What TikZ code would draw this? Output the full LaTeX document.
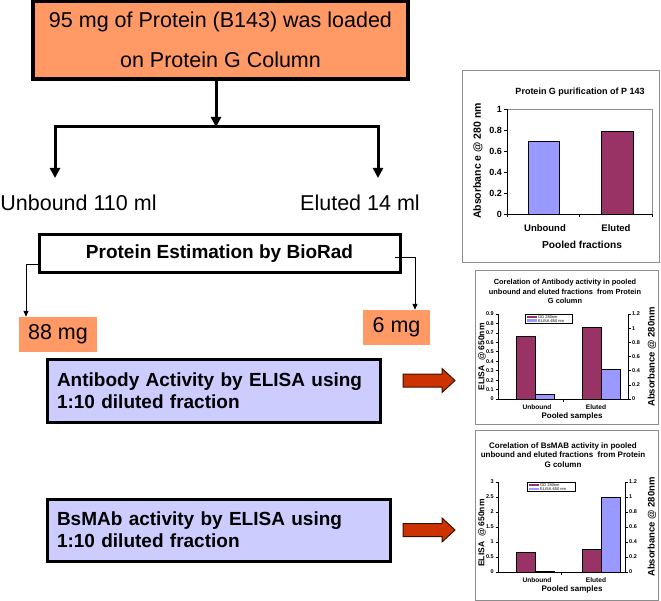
\documentclass[tikz,border=0pt]{standalone}
\usepackage{fontspec}
\setmainfont{Liberation Sans}
\usetikzlibrary{arrows.meta,calc}
\definecolor{orng}{HTML}{FF9966}
\definecolor{lav}{HTML}{CCCCFF}
\definecolor{barblue}{HTML}{9999FF}
\definecolor{barmar}{HTML}{993366}
\definecolor{redarr}{HTML}{CC3300}
\definecolor{framegray}{HTML}{8C8C8C}
\begin{document}
\begin{tikzpicture}[x=1pt,y=-1pt,
  bigtext/.style={font=\fontsize{21.5}{26}\selectfont},
  topbox/.style={draw=black,line width=3.5pt,fill=orng,minimum width=375pt,minimum height=78pt,align=center,inner sep=0pt,font=\fontsize{21.5}{40}\selectfont},
  estbox/.style={draw=black,line width=3pt,fill=white,minimum width=361pt,minimum height=38pt,inner sep=0pt,font=\fontsize{19}{22}\selectfont\bfseries},
  mgbox/.style={fill=orng,inner sep=0pt,minimum height=35pt,font=\fontsize{21.5}{26}\selectfont},
  elisabox/.style={draw=black,line width=3pt,fill=lav,minimum height=62pt,inner xsep=10pt,inner ysep=0pt,align=left,font=\fontsize{19}{22}\selectfont\bfseries},
  thickarrow/.style={line width=3pt,-{Triangle[width=10pt,length=10pt]}},
  thickline/.style={line width=3pt},
  thinarrow/.style={line width=1pt,-{Triangle[width=5pt,length=6pt]}},
  redarrow/.style={fill=redarr,draw=black!70!redarr,line width=1pt},
  cframe/.style={draw=framegray,line width=0.8pt},
  axisline/.style={draw=black,line width=0.6pt},
  barB/.style={fill=barblue,draw=black,line width=0.4pt},
  barM/.style={fill=barmar,draw=black,line width=0.4pt},
  tick1/.style={font=\fontsize{9}{10}\selectfont\bfseries,inner sep=1pt},
  tick2/.style={font=\fontsize{5.5}{6}\selectfont\bfseries,inner sep=1pt},
  legtext/.style={font=\fontsize{4}{4.5}\selectfont,inner sep=0.5pt,anchor=west},
]
\useasboundingbox (0,0) rectangle (661,601);
\fill[white] (0,0) rectangle (661,601);

% ---- flow part ----
\node[topbox] (top) at (220.5,40) {95 mg of Protein (B143) was loaded\\on Protein G Column};
\coordinate (junc) at (216,127);
\coordinate (jl) at (55,127);
\coordinate (jr) at (378,127);
\draw[thickarrow] (top.south -| junc) -- (junc);
\draw[thickline] (jl) -- (jr);
\node[bigtext,inner sep=0pt] (unb) at (78.5,203) {Unbound 110 ml};
\node[bigtext,inner sep=0pt] (elu) at (360,203) {Eluted 14 ml};
\coordinate (ul) at (55,178);
\coordinate (ur) at (378,178);
\draw[thickarrow] ([yshift=1.5pt]jl) -- (ul);
\draw[thickarrow] ([yshift=1.5pt]jr) -- (ur);

\node[estbox] (pe) at (219.5,254) {Protein Estimation by BioRad};
\node[mgbox,minimum width=78pt] (m88) at (58,334.5) {88 mg};
\node[mgbox,minimum width=67pt] (m6) at (396.5,327.5) {6 mg};
\draw[thinarrow] (pe.west |- 0,265) -| ([xshift=-32pt]m88.north);
\draw[thinarrow] ([xshift=-7pt]pe.east |- 0,258) -| ([xshift=18.5pt]m6.north);

\node[elisabox,text width=313pt] (ab) at (213.5,391) {Antibody Activity by ELISA using\\1:10 diluted fraction};
\node[elisabox,text width=323pt] (bs) at (218.5,530) {BsMAb activity by ELISA using\\1:10 diluted fraction};

% red arrows
\coordinate (ra1) at (403,380.5);
\coordinate (ra2) at (403,530);
\foreach \c in {ra1,ra2}{
  \draw[redarrow] (\c) ++(0,-6.5) -- ++(39,0) -- ++(0,-5.5) -- ++(13,12) -- ++(-13,12) -- ++(0,-5.5) -- ++(-39,0) -- cycle;
}

% ---- chart 1 ----
\draw[cframe] (462,70) rectangle (659,262);
\node[font=\fontsize{9}{10}\selectfont\bfseries] (c1t) at (580,92) {Protein G purification of P 143};
\draw[draw=framegray,line width=0.5pt] (507,109) -- (652,109) -- (652,214);
\draw[barB] (528,214) rectangle (559,141.5);
\draw[barM] (601,214) rectangle (633,131);
\draw[axisline] (507,109) -- (507,214) -- (652,214);
\foreach \v/\l in {0/0,0.2/0.2,0.4/0.4,0.6/0.6,0.8/0.8,1/1}{
  \draw[axisline] (503.5,{214-\v*105}) -- (507,{214-\v*105});
  \node[tick1,anchor=east] at (503,{214-\v*105}) {\l};
}
\foreach \x in {507,579.5,652}{ \draw[axisline] (\x,214) -- (\x,217.5); }
\node[font=\fontsize{9.5}{10}\selectfont\bfseries] (c1u) at (545,228) {Unbound};
\node[font=\fontsize{9.5}{10}\selectfont\bfseries] (c1e) at (616,228) {Eluted};
\node[font=\fontsize{10.2}{11}\selectfont\bfseries] (c1x) at (582,245) {Pooled fractions};
\node[font=\fontsize{10.5}{11}\selectfont\bfseries,rotate=90] (c1y) at (478,161) {Absorbanc e @ 280 nm};

% ---- chart 2 ----
\draw[cframe] (475,270) rectangle (658,424);
\node[font=\fontsize{7.4}{9.5}\selectfont\bfseries,align=center] (c2t) at (565,291.5) {Corelation of Antibody activity in pooled\\unbound and eluted fractions\ \ from Protein\\G column};
\draw[barM] (516,399) rectangle (535,336);
\draw[barB] (535,399) rectangle (554,394);
\draw[barM] (582,399) rectangle (601,327);
\draw[barB] (601,399) rectangle (620,369);
\draw[axisline] (498,314) -- (498,399) -- (628,399) -- (628,314);
\foreach \i in {0,...,9}{
  \draw[axisline] (495.5,{399-\i*85/9}) -- (498,{399-\i*85/9});
}
\foreach \i/\l in {0/0,1/0.1,2/0.2,3/0.3,4/0.4,5/0.5,6/0.6,7/0.7,8/0.8,9/0.9}{
  \node[tick2,anchor=east] at (495,{399-\i*85/9}) {\l};
}
\foreach \i/\l in {0/0,1/0.2,2/0.4,3/0.6,4/0.8,5/1,6/1.2}{
  \draw[axisline] (628,{399-\i*85/6}) -- (630.5,{399-\i*85/6});
  \node[tick2,anchor=west] at (631,{399-\i*85/6}) {\l};
}
\draw[axisline] (563,399) -- (563,401.5);
\draw[fill=white,draw=black,line width=0.4pt] (525,314) rectangle (572,323);
\fill[barmar] (527,316) rectangle (537,318.3);
\fill[barblue] (527,319.5) rectangle (537,321.8);
\node[legtext] at (537.5,317.2) {OD 280nm};
\node[legtext] at (537.5,320.7) {ELISA 650 nm};
\node[font=\fontsize{6.6}{7}\selectfont\bfseries] (c2u) at (537,407) {Unbound};
\node[font=\fontsize{6.6}{7}\selectfont\bfseries] (c2e) at (596,407) {Eluted};
\node[font=\fontsize{8}{9}\selectfont\bfseries] (c2x) at (572,416) {Pooled samples};
\node[font=\fontsize{8.5}{9}\selectfont\bfseries,rotate=90] (c2y) at (482,357) {ELISA\ \ @ 650nm};
\node[font=\fontsize{9.5}{10}\selectfont\bfseries,rotate=90] (c2z) at (652,357) {Absorbance @ 280nm};

% ---- chart 3 ----
\draw[cframe] (475,430) rectangle (658,600);
\node[font=\fontsize{8}{9.3}\selectfont\bfseries,align=center] (c3t) at (563,455) {Corelation of BsMAB activity in pooled\\unbound and eluted fractions\ \ from Protein\\G column};
\draw[barM] (516,572) rectangle (535,552);
\draw[barB] (535,572) rectangle (554,571);
\draw[barM] (582,572) rectangle (601,549);
\draw[barB] (601,572) rectangle (620,497);
\draw[axisline] (498,482) -- (498,572) -- (625,572) -- (625,482);
\foreach \i/\l in {0/0,1/0.5,2/1,3/1.5,4/2,5/2.5,6/3}{
  \draw[axisline] (495.5,{572-\i*15}) -- (498,{572-\i*15});
  \node[tick2,anchor=east] at (495,{572-\i*15}) {\l};
}
\foreach \i/\l in {0/0,1/0.2,2/0.4,3/0.6,4/0.8,5/1,6/1.2}{
  \draw[axisline] (625,{572-\i*15}) -- (627.5,{572-\i*15});
  \node[tick2,anchor=west] at (628,{572-\i*15}) {\l};
}
\draw[axisline] (561.5,572) -- (561.5,574.5);
\draw[fill=white,draw=black,line width=0.4pt] (527,482) rectangle (575,491);
\fill[barmar] (529,484) rectangle (539,486.3);
\fill[barblue] (529,487.5) rectangle (539,489.8);
\node[legtext] at (539.5,485.2) {OD 280nm};
\node[legtext] at (539.5,488.7) {ELISA 650 nm};
\node[font=\fontsize{6.6}{7}\selectfont\bfseries] (c3u) at (537,580) {Unbound};
\node[font=\fontsize{6.6}{7}\selectfont\bfseries] (c3e) at (596,580) {Eluted};
\node[font=\fontsize{8}{9}\selectfont\bfseries] (c3x) at (572,589) {Pooled samples};
\node[font=\fontsize{8.5}{9}\selectfont\bfseries,rotate=90] (c3y) at (482,533) {ELISA\ \ @ 650nm};
\node[font=\fontsize{9.5}{10}\selectfont\bfseries,rotate=90] (c3z) at (652,527) {Absorbance @ 280nm};
\end{tikzpicture}
\end{document}
